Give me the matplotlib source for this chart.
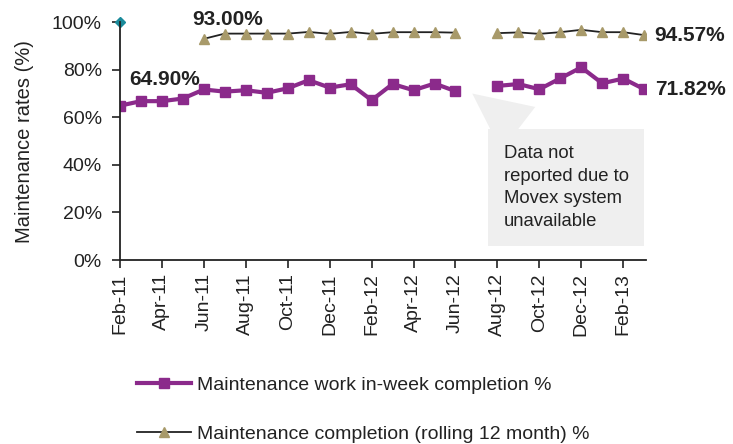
import numpy as np
import matplotlib
matplotlib.use("Agg")
import matplotlib.pyplot as plt

plt.rcParams['font.family'] = ['Liberation Sans', 'DejaVu Sans']

months = ['Feb-11', 'Mar-11', 'Apr-11', 'May-11', 'Jun-11', 'Jul-11', 'Aug-11', 'Sep-11',
          'Oct-11', 'Nov-11', 'Dec-11', 'Jan-12', 'Feb-12', 'Mar-12', 'Apr-12', 'May-12',
          'Jun-12', 'Jul-12', 'Aug-12', 'Sep-12', 'Oct-12', 'Nov-12', 'Dec-12', 'Jan-13',
          'Feb-13', 'Mar-13']

# in-week completion (Jul-12 not reported)
in_week = [64.9, 66.8, 66.8, 67.9, 71.7, 70.8, 71.4, 70.3,
           72.2, 75.6, 72.5, 73.9, 67.2, 74.0, 71.4, 74.2,
           71.0, np.nan, 73.2, 74.0, 71.8, 76.4, 81.0, 74.3,
           76.3, 71.82]

# rolling 12 month completion, starts Jun-11
rolling = [np.nan, np.nan, np.nan, np.nan, 93.0, 95.2, 95.2, 95.2,
           95.2, 95.9, 95.1, 95.9, 95.1, 95.8, 95.8, 95.8,
           95.6, np.nan, 95.4, 95.7, 95.1, 95.8, 96.8, 95.8,
           95.8, 94.57]

target = [100.0] + [np.nan] * 25

x = np.arange(len(months))

fig = plt.figure(figsize=(7.33, 4.44), dpi=100)
ax = fig.add_axes([0.1637, 0.4144, 0.718, 0.5356])

purple = '#8b2a8b'
tan = '#a89a6a'
txt = '#222222'

ax.plot(x, in_week, color=purple, lw=3, marker='s', ms=7.5,
        label='Maintenance work in-week completion %')
ax.plot(x, rolling, color=txt, lw=1.3, marker='^', ms=6.5, mfc=tan, mec=tan,
        label='Maintenance completion (rolling 12 month) %')
ax.plot(x, target, color='#1a8a9a', marker='D', ms=5, lw=0, clip_on=False)

ax.set_xlim(0, 25.1)
ax.set_ylim(0, 100)
ax.set_yticks(np.arange(0, 101, 20))
ax.set_yticklabels([f'{v}%' for v in range(0, 101, 20)], fontsize=14, color=txt)
ax.set_xticks(x[::2])
ax.set_xticklabels(months[::2], rotation=90, fontsize=14, color=txt)
ax.tick_params(axis='both', direction='out', length=6, width=1.2, color=txt)
ax.tick_params(axis='y', pad=7)
ax.set_ylabel('Maintenance rates (%)', fontsize=14.5, color=txt, labelpad=13)

for s in ['top', 'right']:
    ax.spines[s].set_visible(False)
for s in ['left', 'bottom']:
    ax.spines[s].set_linewidth(1.3)
    ax.spines[s].set_color(txt)

lbl = dict(fontsize=15, fontweight='bold', color=txt)
ax.text(0.45, 76, f'{in_week[0]:.2f}%', ha='left', va='center', **lbl)
ax.text(3.45, 101, f'{rolling[4]:.2f}%', ha='left', va='center', clip_on=False, **lbl)
ax.text(25.5, rolling[-1], f'{rolling[-1]:.2f}%', ha='left', va='center', clip_on=False, **lbl)
ax.text(25.5, in_week[-1], f'{in_week[-1]:.2f}%', ha='left', va='center', clip_on=False, **lbl)

# callout for the missing month
ax.annotate('Data not\nreported due to\nMovex system\nunavailable',
            xy=(16.8, 70), xytext=(18.3, 48.5), ha='left', va='top',
            fontsize=13.3, color=txt, linespacing=1.45,
            bbox=dict(boxstyle='square,pad=0.85', fc='#efefef', ec='none'),
            arrowprops=dict(arrowstyle='wedge,tail_width=4', mutation_scale=10,
                            fc='#efefef', ec='none',
                            relpos=(0.28, 1.0), shrinkA=0, shrinkB=0))

fig.legend(loc='center left', bbox_to_anchor=(0.163, 0.078), frameon=False,
           fontsize=14, handlelength=2.8, handletextpad=0.3, labelspacing=1.6,
           labelcolor=txt)

fig.savefig('out.png', dpi=100)
